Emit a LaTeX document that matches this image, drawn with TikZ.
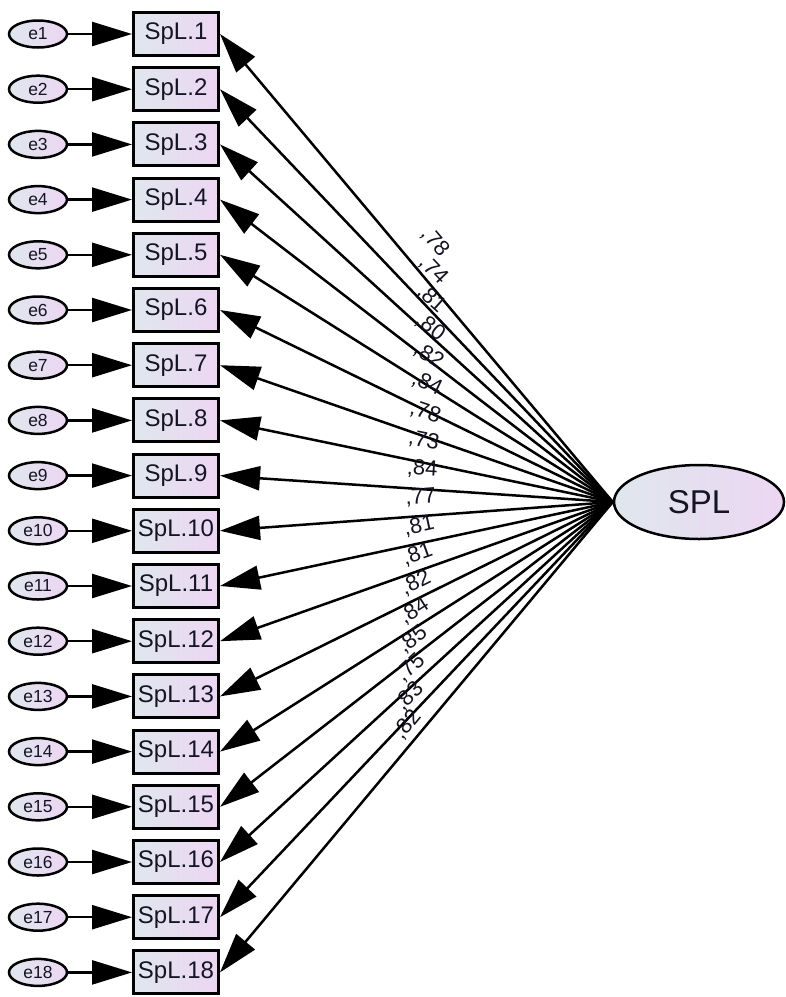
\documentclass[tikz,border=0pt]{standalone}
\usepackage{fontspec}
\setmainfont{Liberation Sans}
\usetikzlibrary{arrows.meta,shapes.geometric}
\definecolor{shL}{RGB}{224,231,238}
\definecolor{shR}{RGB}{236,214,242}
\definecolor{txt}{RGB}{20,20,35}
\begin{document}
\begin{tikzpicture}[x=1pt,y=1pt,
 obs/.style={draw, line width=3pt, rectangle, minimum width=85pt, minimum height=43pt, inner sep=0pt, left color=shL, right color=shR, text=txt, font=\fontsize{24}{24}\selectfont},
 err/.style={draw, line width=2.5pt, ellipse, minimum width=58pt, minimum height=27pt, inner sep=0pt, left color=shL, right color=shR, text=txt, font=\fontsize{17.5}{17.5}\selectfont},
 lat/.style={draw, line width=2.5pt, ellipse, minimum width=170pt, minimum height=74pt, inner sep=0pt, left color=shL, right color=shR, text=txt, font=\fontsize{33}{33}\selectfont},
 arr/.style={line width=2.5pt, -{Triangle[length=40pt,width=24pt]}},
 lab/.style={font=\fontsize{22}{22}\selectfont, inner sep=0pt, text=txt}
]
\useasboundingbox (0,0) rectangle (786,-997);
\node[lat] (S) at (699,-502) {SPL};
\foreach \i/\v in {1/78,2/74,3/81,4/80,5/82,6/84,7/78,8/73,9/84,10/77,11/81,12/81,13/82,14/84,15/85,16/75,17/83,18/82} {
  \pgfmathsetmacro\yy{-34-(\i-1)*55.2}
  \pgfmathsetmacro\ang{atan2(-\yy-500,394)}
  \pgfmathsetmacro\lx{435-(\i-1)*1.6}
  \pgfmathsetmacro\ly{-242-(\i-1)*28.4}
  \node[obs] (b\i) at (176,\yy) {SpL.\i};
  \node[err] (e\i) at (38,\yy) {e\i};
  \draw[arr] (e\i) -- (b\i);
  \draw[arr] (S.west) -- (b\i.east);
  \node[lab, rotate=\ang] (l\i) at (\lx,\ly) {,\v};
}
\end{tikzpicture}
\end{document}
